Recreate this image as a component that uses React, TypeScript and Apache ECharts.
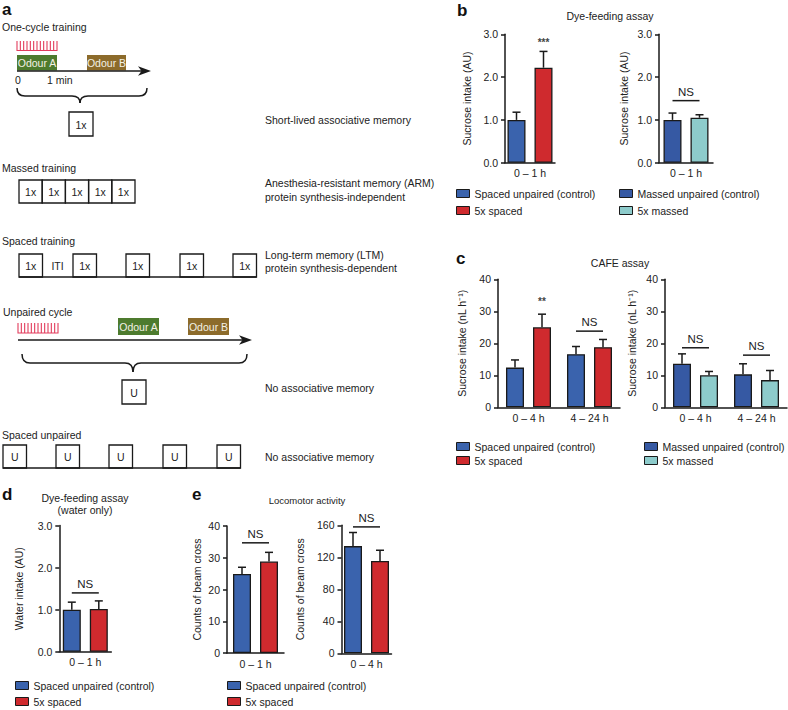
import React, { useEffect, useRef } from "react";
import * as echarts from "echarts";

const FONT = "'Liberation Sans', Arial, Helvetica, sans-serif";
const BLUE = "#3a63ad";
const BLUE2 = "#3659a3";
const RED = "#cf2a2e";
const TEAL = "#8dcbcb";
const GREEN = "#4d7b2e";
const BROWN = "#8c6b2b";
const COMB = "#e23c5c";
const INK = "#1a1a1a";

// ---- data ----
const dyeCats = ["0 – 1 h"];
const cafeCats = ["0 – 4 h", "4 – 24 h"];
const locoCats4h = ["0 – 4 h"];

const dyeSpacedCtrl = [1.0];
const dyeSpacedCtrlErr = [0.18];
const dyeSpaced = [2.22];
const dyeSpacedErr = [0.38];
const dyeMassedCtrl = [1.0];
const dyeMassedCtrlErr = [0.16];
const dyeMassed = [1.05];
const dyeMassedErr = [0.07];

const cafeSpacedCtrl = [12.4, 16.6];
const cafeSpacedCtrlErr = [2.4, 2.4];
const cafeSpaced = [25.0, 18.8];
const cafeSpacedErr = [4.1, 2.4];
const cafeMassedCtrl = [13.6, 10.3];
const cafeMassedCtrlErr = [3.1, 3.3];
const cafeMassed = [10.0, 8.5];
const cafeMassedErr = [1.2, 3.0];

const waterCtrl = [1.0];
const waterCtrlErr = [0.18];
const waterSpaced = [1.02];
const waterSpacedErr = [0.19];

const loco1Ctrl = [24.9];
const loco1CtrlErr = [2.1];
const loco1Spaced = [28.8];
const loco1SpacedErr = [2.9];
const loco4Ctrl = [134];
const loco4CtrlErr = [17];
const loco4Spaced = [115.5];
const loco4SpacedErr = [13.3];

const N_SPC = "Spaced unpaired (control)";
const N_5SP = "5x spaced";
const N_MSC = "Massed unpaired (control)";
const N_5MS = "5x massed";

type Ser = { name: string; color: string; values: number[]; errs: number[] };
type Ann = { kind: "ns" | "star"; cat: number; y: number; text: string };
type Panel = {
  grid: { left: number; top: number; width: number; height: number };
  cats: string[];
  max: number;
  interval: number;
  dec: number;
  yName: string;
  nameGap: number;
  series: Ser[];
  ann: Ann[];
};

const BAR_W = 18;
const BAR_GAP = 9;

const panels: Panel[] = [
  {
    grid: { left: 505, top: 34.3, width: 50, height: 128.4 },
    cats: dyeCats, max: 3, interval: 1, dec: 1, yName: "Sucrose intake (AU)", nameGap: 33,
    series: [
      { name: N_SPC, color: BLUE, values: dyeSpacedCtrl, errs: dyeSpacedCtrlErr },
      { name: N_5SP, color: RED, values: dyeSpaced, errs: dyeSpacedErr },
    ],
    ann: [{ kind: "star", cat: 0, y: 2.8, text: "***" }],
  },
  {
    grid: { left: 659, top: 34.3, width: 54, height: 128.4 },
    cats: dyeCats, max: 3, interval: 1, dec: 1, yName: "Sucrose intake (AU)", nameGap: 30,
    series: [
      { name: N_MSC, color: BLUE2, values: dyeMassedCtrl, errs: dyeMassedCtrlErr },
      { name: N_5MS, color: TEAL, values: dyeMassed, errs: dyeMassedErr },
    ],
    ann: [{ kind: "ns", cat: 0, y: 1.45, text: "NS" }],
  },
  {
    grid: { left: 498, top: 279.3, width: 122, height: 128 },
    cats: cafeCats, max: 40, interval: 10, dec: 0, yName: "Sucrose intake (nL h⁻¹)", nameGap: 31,
    series: [
      { name: N_SPC, color: BLUE, values: cafeSpacedCtrl, errs: cafeSpacedCtrlErr },
      { name: N_5SP, color: RED, values: cafeSpaced, errs: cafeSpacedErr },
    ],
    ann: [
      { kind: "star", cat: 0, y: 33, text: "**" },
      { kind: "ns", cat: 1, y: 23.8, text: "NS" },
    ],
  },
  {
    grid: { left: 665, top: 279.3, width: 122, height: 128 },
    cats: cafeCats, max: 40, interval: 10, dec: 0, yName: "Sucrose intake (nL h⁻¹)", nameGap: 28,
    series: [
      { name: N_MSC, color: BLUE2, values: cafeMassedCtrl, errs: cafeMassedCtrlErr },
      { name: N_5MS, color: TEAL, values: cafeMassed, errs: cafeMassedErr },
    ],
    ann: [
      { kind: "ns", cat: 0, y: 18.6, text: "NS" },
      { kind: "ns", cat: 1, y: 16.3, text: "NS" },
    ],
  },
  {
    grid: { left: 59.3, top: 525.6, width: 52, height: 126.2 },
    cats: dyeCats, max: 3, interval: 1, dec: 1, yName: "Water intake (AU)", nameGap: 35,
    series: [
      { name: N_SPC, color: BLUE, values: waterCtrl, errs: waterCtrlErr },
      { name: N_5SP, color: RED, values: waterSpaced, errs: waterSpacedErr },
    ],
    ann: [{ kind: "ns", cat: 0, y: 1.4, text: "NS" }],
  },
  {
    grid: { left: 227, top: 526, width: 57, height: 127 },
    cats: dyeCats, max: 40, interval: 10, dec: 0, yName: "Counts of beam cross", nameGap: 25,
    series: [
      { name: N_SPC, color: BLUE, values: loco1Ctrl, errs: loco1CtrlErr },
      { name: N_5SP, color: RED, values: loco1Spaced, errs: loco1SpacedErr },
    ],
    ann: [{ kind: "ns", cat: 0, y: 34.7, text: "NS" }],
  },
  {
    grid: { left: 341.5, top: 525.3, width: 50, height: 128 },
    cats: locoCats4h, max: 160, interval: 40, dec: 0, yName: "Counts of beam cross", nameGap: 36,
    series: [
      { name: N_SPC, color: BLUE, values: loco4Ctrl, errs: loco4CtrlErr },
      { name: N_5SP, color: RED, values: loco4Spaced, errs: loco4SpacedErr },
    ],
    ann: [{ kind: "ns", cat: 0, y: 158, text: "NS" }],
  },
];

function buildGraphic(): any[] {
  const g: any[] = [];
  const txt = (text: string, x: number, y: number, o: any = {}) => {
    const size = o.size || 10.5;
    const weight = o.weight || "normal";
    g.push({
      type: "text", x, y, silent: true,
      style: {
        text, fill: o.fill || "#222",
        fontSize: size, fontFamily: FONT, fontWeight: weight,
        align: o.align || "left", verticalAlign: o.va || "middle",
      },
    });
  };
  const box = (x: number, y: number, w: number, h: number, label?: string) => {
    g.push({ type: "rect", shape: { x, y, width: w, height: h }, style: { fill: "none", stroke: INK, lineWidth: 1.3 } });
    if (label) txt(label, x + w / 2, y + h / 2 + 0.5, { align: "center" });
  };
  const line = (x1: number, y1: number, x2: number, y2: number, lw = 1.3, stroke = INK) =>
    g.push({ type: "line", shape: { x1, y1, x2, y2 }, style: { stroke, lineWidth: lw } });
  const comb = (x0: number, x1: number, yb: number, yt: number, n: number) => {
    const pts: number[][] = [[x0, yb]];
    for (let k = 0; k < n; k++) {
      const xk = x0 + (k * (x1 - x0)) / (n - 1);
      pts.push([xk, yb], [xk, yt], [xk, yb]);
    }
    pts.push([x1, yb]);
    g.push({ type: "polyline", shape: { points: pts }, style: { stroke: COMB, lineWidth: 1.1, fill: "none" } });
  };
  const odour = (x: number, y: number, w: number, h: number, color: string, label: string) => {
    g.push({ type: "rect", shape: { x, y, width: w, height: h }, style: { fill: color } });
    txt(label, x + w / 2, y + h / 2 + 0.5, { align: "center", fill: "#f3f1e6", size: 10.5 });
  };
  const arrow = (x0: number, tip: number, y: number) => {
    line(x0, y, tip - 6, y, 1.5);
    g.push({
      type: "polygon",
      shape: { points: [[tip, y], [tip - 13, y - 4.8], [tip - 9.5, y], [tip - 13, y + 4.8]] },
      style: { fill: INK },
    });
  };
  const brace = (x0: number, x1: number, xm: number, yTop: number, yMid: number, yTip: number) => {
    const st = { stroke: INK, lineWidth: 1.5, fill: "none" };
    const bz = (a: number, b: number, c: number, d: number, cx: number, cy: number) =>
      g.push({ type: "bezierCurve", shape: { x1: a, y1: b, x2: c, y2: d, cpx1: cx, cpy1: cy }, style: st });
    bz(x0, yTop, x0 + 8, yMid, x0, yMid);
    line(x0 + 8, yMid, xm - 8, yMid, 1.5);
    bz(xm - 8, yMid, xm, yTip, xm, yMid);
    bz(xm, yTip, xm + 8, yMid, xm, yMid);
    line(xm + 8, yMid, x1 - 8, yMid, 1.5);
    bz(x1 - 8, yMid, x1, yTop, x1, yMid);
  };

  // ---- panel a ----
  txt("a", 2, 9, { size: 17, weight: "bold", fill: "#111" });
  txt("One-cycle training", 2, 27);
  comb(17, 57, 50.5, 41, 13);
  odour(17, 55, 40, 15.5, GREEN, "Odour A");
  odour(87, 55, 39, 15.5, BROWN, "Odour B");
  arrow(17, 151, 71);
  txt("0", 15, 80);
  txt("1 min", 47, 80);
  brace(17, 147, 80, 88, 96, 103);
  box(69, 112, 24, 24, "1x");
  txt("Short-lived associative memory", 265, 120);

  txt("Massed training", 2, 168);
  for (let i = 0; i < 5; i++) box(19 + i * 23.2, 180, 23.2, 23, "1x");
  txt("Anesthesia-resistant memory (ARM)", 265, 183);
  txt("protein synthesis-independent", 265, 197);

  txt("Spaced training", 2, 241);
  [19, 73, 126, 180, 233].forEach((x) => box(x, 254, 23.5, 23, "1x"));
  line(19, 277, 256.5, 277);
  txt("ITI", 57.5, 266, { align: "center" });
  txt("Long-term memory (LTM)", 265, 255);
  txt("protein synthesis-dependent", 265, 268);

  txt("Unpaired cycle", 3, 312);
  comb(18, 58, 333, 323, 13);
  odour(118, 318, 41, 17, GREEN, "Odour A");
  odour(188, 318, 41, 17, BROWN, "Odour B");
  arrow(18, 252, 340);
  brace(22, 247, 133, 354, 363, 372);
  box(122, 380, 24, 24, "U");
  txt("No associative memory", 265, 388);

  txt("Spaced unpaired", 2, 435);
  [3, 56, 109, 163, 217].forEach((x) => box(x, 445, 23.5, 23, "U"));
  line(3, 468, 240.5, 468);
  txt("No associative memory", 265, 457);

  // ---- panel letters & titles ----
  txt("b", 457, 10, { size: 17, weight: "bold", fill: "#111" });
  txt("Dye-feeding assay", 610, 16, { align: "center" });
  txt("c", 456, 258, { size: 17, weight: "bold", fill: "#111" });
  txt("CAFE assay", 620, 263, { align: "center" });
  txt("d", 2, 494, { size: 17, weight: "bold", fill: "#111" });
  txt("Dye-feeding assay", 85, 497.7, { align: "center" });
  txt("(water only)", 85, 509.5, { align: "center" });
  txt("e", 192, 494, { size: 17, weight: "bold", fill: "#111" });
  txt("Locomotor activity", 307, 500, { align: "center", size: 9.5 });
  return g;
}

function buildOption(): any {
  const grid: any[] = [];
  const xAxis: any[] = [];
  const yAxis: any[] = [];
  const series: any[] = [];
  const axisLine = { show: true, lineStyle: { color: INK, width: 1.5 } };
  const label = { color: "#222", fontSize: 10.5, fontFamily: FONT };

  panels.forEach((p, i) => {
    grid.push({ ...p.grid, containLabel: false });
    xAxis.push({
      type: "category", gridIndex: i, data: p.cats,
      axisLine, axisTick: { show: false },
      axisLabel: { ...label, margin: 5, interval: 0 },
    });
    yAxis.push({
      type: "value", gridIndex: i, min: 0, max: p.max, interval: p.interval,
      name: p.yName, nameLocation: "middle", nameGap: p.nameGap, nameRotate: 90,
      nameTextStyle: { ...label },
      axisLine, axisTick: { show: true, length: 4, lineStyle: { color: INK, width: 1.5 } },
      axisLabel: { ...label, margin: 7, formatter: (v: number) => v.toFixed(p.dec) },
      splitLine: { show: false },
    });
    const n = p.series.length;
    p.series.forEach((s) => {
      series.push({
        type: "bar", name: s.name, xAxisIndex: i, yAxisIndex: i, data: s.values,
        barWidth: BAR_W, barGap: "50%",
        itemStyle: { color: s.color, borderColor: INK, borderWidth: 1.3 },
        silent: true,
      });
    });
    p.series.forEach((s, j) => {
      const off = (j - (n - 1) / 2) * (BAR_W + BAR_GAP);
      series.push({
        type: "custom", xAxisIndex: i, yAxisIndex: i, silent: true, z: 5,
        data: s.values.map((v, k) => [k, v, s.errs[k]]),
        renderItem: (_params: any, api: any) => {
          const k = api.value(0), v = api.value(1), e = api.value(2);
          const b = api.coord([k, v]);
          const t = api.coord([k, v + e]);
          const x = b[0] + off;
          return {
            type: "group",
            children: [
              { type: "line", shape: { x1: x, y1: b[1], x2: x, y2: t[1] }, style: { stroke: INK, lineWidth: 1.5 } },
              { type: "line", shape: { x1: x - 4, y1: t[1], x2: x + 4, y2: t[1] }, style: { stroke: INK, lineWidth: 1.5 } },
            ],
          };
        },
      });
    });
    const half = (BAR_W + BAR_GAP) / 2;
    series.push({
      type: "custom", xAxisIndex: i, yAxisIndex: i, silent: true, z: 6,
      data: p.ann.map((a) => [a.cat, a.y]),
      renderItem: (params: any, api: any) => {
        const a = p.ann[params.dataIndex];
        const c = api.coord([api.value(0), api.value(1)]);
        if (a.kind === "ns") {
          return {
            type: "group",
            children: [
              { type: "line", shape: { x1: c[0] - half, y1: c[1], x2: c[0] + half, y2: c[1] }, style: { stroke: INK, lineWidth: 1.5 } },
              { type: "text", style: { text: a.text, x: c[0], y: c[1] - 3, align: "center", verticalAlign: "bottom", fontSize: 11.5, fontFamily: FONT, fill: "#222" } },
            ],
          };
        }
        return {
          type: "text",
          style: { text: a.text, x: c[0] + half, y: c[1], align: "center", verticalAlign: "middle", fontSize: 10, fontWeight: "bold", fontFamily: FONT, fill: "#444" },
        };
      },
    });
  });

  const legendBase = {
    orient: "vertical", itemWidth: 13, itemHeight: 8, padding: 0, selectedMode: false,
    icon: "rect", itemStyle: { borderColor: INK, borderWidth: 1 },
    textStyle: { color: "#222", fontSize: 10.5, fontFamily: FONT },
  };
  const legend = [
    { ...legendBase, data: [N_SPC, N_5SP], left: 456, top: 188, itemGap: 6 },
    { ...legendBase, data: [N_MSC, N_5MS], left: 619, top: 188, itemGap: 6 },
    { ...legendBase, data: [N_SPC, N_5SP], left: 456, top: 441, itemGap: 3 },
    { ...legendBase, data: [N_MSC, N_5MS], left: 644, top: 441, itemGap: 3 },
    { ...legendBase, data: [N_SPC, N_5SP], left: 15, top: 680, itemGap: 5 },
    { ...legendBase, data: [N_SPC, N_5SP], left: 227, top: 680, itemGap: 5 },
  ];

  return {
    animation: false,
    backgroundColor: "#ffffff",
    textStyle: { fontFamily: FONT },
    grid, xAxis, yAxis, series, legend,
    graphic: buildGraphic(),
  };
}

export default function App() {
  const ref = useRef<HTMLDivElement>(null);
  useEffect(() => {
    if (!ref.current) return;
    const chart = echarts.init(ref.current, undefined, { renderer: "svg" });
    chart.setOption(buildOption());
    return () => chart.dispose();
  }, []);
  return (
    <div
      ref={ref}
      style={{ position: "fixed", left: 0, top: 0, width: 788, height: 710, background: "#fff" }}
    />
  );
}
